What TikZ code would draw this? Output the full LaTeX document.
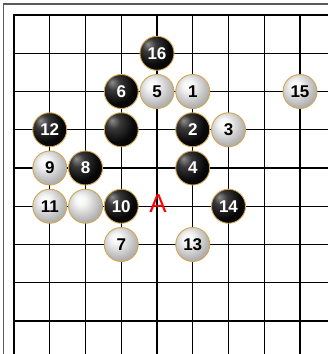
\documentclass[tikz,border=0pt]{standalone}
\usepackage{fontspec}
\setmainfont{Liberation Sans}
\definecolor{rim}{RGB}{210,165,80}
\definecolor{frame}{RGB}{90,90,90}
\pgfdeclareradialshading{blackstoneshade}{\pgfpoint{-14bp}{14bp}}{%
  color(0bp)=(black!45); color(10bp)=(black!78); color(26bp)=(black!97); color(60bp)=(black)}
\pgfdeclareradialshading{whitestoneshade}{\pgfpoint{-8bp}{10bp}}{%
  color(0bp)=(white); color(8bp)=(white!96!black); color(26bp)=(black!28); color(42bp)=(black!45); color(70bp)=(black!50)}
\tikzset{
  stone/.style={circle, minimum size=34pt, inner sep=0pt, draw=rim, line width=0.9pt,
    font=\fontsize{17}{17}\selectfont\bfseries},
  bstone/.style={stone, shading=blackstoneshade, text=white},
  wstone/.style={stone, shading=whitestoneshade, text=black},
  gridline/.style={line width=1.4pt, black},
  edgeline/.style={line width=2.6pt, black},
  pointlabel/.style={text=red, inner sep=0pt}
}
\begin{document}
\begin{tikzpicture}
\useasboundingbox (0pt,0pt) rectangle (328pt,-354pt);
\fill[white] (0pt,0pt) rectangle (328pt,-354pt);
% outer frame
\draw[frame, line width=1.8pt] (3.5pt,-356pt) -- (3.5pt,-4pt) -- (330pt,-4pt);
\begin{scope}[shift={(14pt,-15pt)}, x=35.75pt, y=-38.25pt]
  % grid
  \foreach \i in {1,...,8} \draw[gridline] (\i,0) -- (\i,9.3);
  \foreach \j in {1,...,8} \draw[gridline] (0,\j) -- (8.8,\j);
  \draw[edgeline] (0,9.3) -- (0,0) -- (8.8,0);
  % black stones
  \node[bstone] (s16) at (4,1) {16};
  \node[bstone] (s6) at (3,2) {6};
  \node[bstone] (s12) at (1,3) {12};
  \node[bstone] (sb) at (3,3) {};
  \node[bstone] (s2) at (5,3) {2};
  \node[bstone] (s8) at (2,4) {8};
  \node[bstone] (s4) at (5,4) {4};
  \node[bstone] (s10) at (3,5) {10};
  \node[bstone] (s14) at (6,5) {14};
  % white stones
  \node[wstone] (s5) at (4,2) {5};
  \node[wstone] (s1) at (5,2) {1};
  \node[wstone] (s15) at (8,2) {15};
  \node[wstone] (s3) at (6,3) {3};
  \node[wstone] (s9) at (1,4) {9};
  \node[wstone] (s11) at (1,5) {11};
  \node[wstone] (sw) at (2,5) {};
  \node[wstone] (s7) at (3,6) {7};
  \node[wstone] (s13) at (5,6) {13};
  % marker
  \node[pointlabel] (mA) at ([shift={(1pt,3pt)}]4,5) {\fontsize{26}{26}\selectfont A};
\end{scope}
\end{tikzpicture}
\end{document}
